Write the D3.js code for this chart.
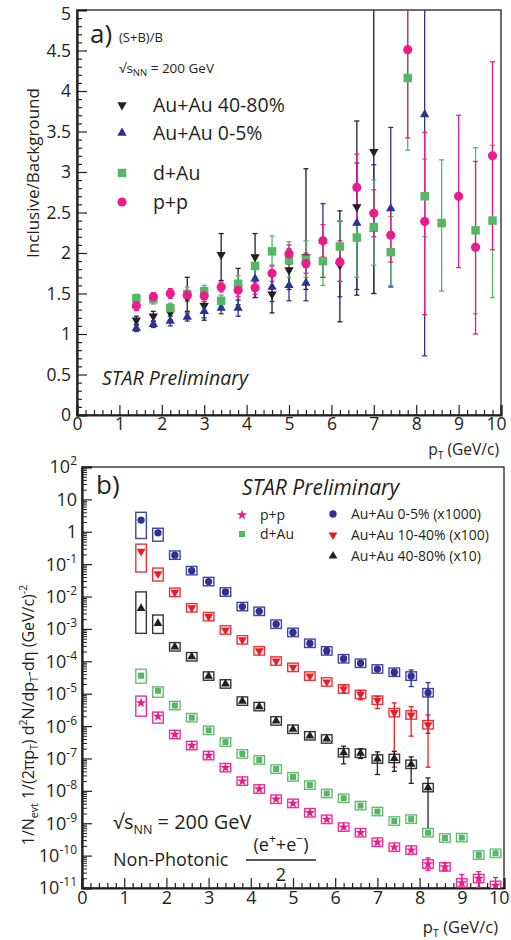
<!DOCTYPE html>
<html><head><meta charset="utf-8">
<script src="https://cdn.jsdelivr.net/npm/d3@7"></script>
<style>
body{margin:0;background:#fff}
svg{display:block}
text{font-family:"Open Sans",Lato,sans-serif;fill:#231f20}
</style>
</head><body>
<svg id="c" width="511" height="940"></svg>
<script>
// ---------------- Panel a data: (S+B)/B ----------------
const aPeriphX  = [1.4,1.8,2.2,2.6,3.0,3.4,3.8,4.2,4.6,5.0,5.4,6.2,6.6,7.0];
const aPeriphY  = [1.17,1.22,1.26,1.45,1.35,1.98,1.57,1.95,1.49,1.79,1.95,1.85,2.57,3.25];
const aPeriphLo = [1.12,1.16,1.17,1.28,1.17,1.66,1.36,1.45,1.26,1.55,1.55,1.15,1.48,1.50];
const aPeriphHi = [1.22,1.28,1.35,1.70,1.40,2.24,1.81,2.24,1.74,2.05,3.04,2.52,3.63,5.5];

const aCentX  = [1.4,1.8,2.2,2.6,3.0,3.4,3.8,4.2,4.6,5.0,5.4,5.8,6.2,6.6,7.0,7.4,8.2];
const aCentY  = [1.07,1.12,1.16,1.21,1.28,1.32,1.32,1.68,1.58,1.60,1.63,2.15,1.90,2.37,2.30,2.55,3.71];
const aCentLo = [1.03,1.08,1.10,1.16,1.20,1.25,1.22,1.45,1.40,1.41,1.41,1.70,1.46,1.55,1.50,1.58,0.73];
const aCentHi = [1.11,1.16,1.22,1.26,1.36,1.39,1.42,1.80,1.75,1.78,1.82,2.61,2.39,3.11,3.09,3.55,5.5];

const aDAuX  = [1.4,1.8,2.2,2.6,3.0,3.4,3.8,4.2,4.6,5.0,5.4,5.8,6.2,6.6,7.0,7.4,7.8,8.2,8.6,9.4,9.8];
const aDAuY  = [1.44,1.43,1.32,1.49,1.53,1.41,1.62,1.84,2.02,1.91,1.92,1.90,2.08,2.19,2.32,2.01,4.16,2.70,2.37,2.28,2.40];
const aDAuLo = [1.39,1.37,1.25,1.40,1.45,1.34,1.52,1.70,1.85,1.70,1.70,1.60,1.65,1.70,1.85,1.60,3.27,2.20,1.53,1.25,1.45];
const aDAuHi = [1.49,1.48,1.38,1.58,1.60,1.48,1.72,1.98,2.21,2.14,2.15,2.15,2.40,2.60,2.90,2.45,5.5,3.16,3.15,3.30,3.33];

const aPPX  = [1.4,1.8,2.2,2.6,3.0,3.4,3.8,4.2,4.6,5.0,5.4,5.8,6.2,6.6,7.0,7.4,7.8,8.2,9.0,9.4,9.8];
const aPPY  = [1.35,1.46,1.50,1.48,1.47,1.58,1.54,1.57,1.75,1.99,1.87,2.15,1.89,2.81,2.49,2.22,4.51,2.39,2.70,2.07,3.20];
const aPPLo = [1.29,1.41,1.44,1.42,1.40,1.52,1.46,1.49,1.65,1.86,1.75,1.95,1.65,2.35,2.20,1.89,3.42,1.24,1.82,1.00,2.04];
const aPPHi = [1.41,1.51,1.56,1.54,1.54,1.64,1.62,1.64,1.84,2.10,2.00,2.35,2.15,3.22,2.78,2.55,5.5,3.49,3.70,3.13,4.36];

const aLegend = ["Au+Au 40-80%","Au+Au 0-5%","d+Au","p+p"];
const aYTicks = [0,0.5,1,1.5,2,2.5,3,3.5,4,4.5,5];
const xTicks  = [0,1,2,3,4,5,6,7,8,9,10];

// ---------------- Panel b data: spectra ----------------
const bAAX = [1.4,1.8,2.2,2.6,3.0,3.4,3.8,4.2,4.6,5.0,5.4,5.8,6.2,6.6,7.0,7.4,7.8,8.2];
const bCentY = [2.3,0.93,0.19,0.063,0.029,0.0138,0.0049,0.0035,0.0014,7.8e-4,3.6e-4,2.1e-4,1.2e-4,8.7e-5,5.8e-5,4.6e-5,3.5e-5,1.07e-5];
const bMidY  = [0.25,0.050,0.0135,0.0045,0.0024,9.3e-4,4.6e-4,2.1e-4,1.02e-4,6.5e-5,3.5e-5,2.3e-5,1.4e-5,9.5e-6,6.3e-6,2.6e-6,2.2e-6,1.1e-6];
const bPerY  = [4.3e-3,1.48e-3,2.8e-4,1.38e-4,3.5e-5,2.0e-5,5.9e-6,4.0e-6,1.44e-6,8.0e-7,5.0e-7,4.0e-7,1.5e-7,1.45e-7,9.6e-8,1.0e-7,6.6e-8,1.26e-8];
const bRefX = [1.4,1.8,2.2,2.6,3.0,3.4,3.8,4.2,4.6,5.0,5.4,5.8,6.2,6.6,7.0,7.4,7.8,8.2,8.6,9.0,9.4,9.8];
const bDAuY = [3.6e-5,1.23e-5,4.3e-6,1.82e-6,7.4e-7,3.2e-7,1.38e-7,9.0e-8,4.7e-8,2.7e-8,1.5e-8,8.3e-9,5.9e-9,3.5e-9,2.3e-9,1.17e-9,1.34e-9,5.1e-10,3.5e-10,3.6e-10,1.04e-10,1.18e-10];
const bPPY  = [5.2e-6,2.0e-6,5.5e-7,2.5e-7,1.23e-7,5.2e-8,2.0e-8,1.14e-8,5.5e-9,4.1e-9,2.1e-9,1.32e-9,7.6e-10,5.1e-10,2.6e-10,1.82e-10,1.48e-10,5.5e-11,4.5e-11,1.44e-11,1.96e-11,1.2e-11];

// statistical error bars [index, low, high]
const bCentErr = [[10,3.0e-4,4.2e-4],[11,1.7e-4,2.6e-4],[15,3.7e-5,5.6e-5],[16,1.66e-5,5.4e-5],[17,6.0e-7,2.2e-5]];
const bMidErr  = [[12,1.05e-5,1.8e-5],[13,6.5e-6,1.25e-5],[14,3.5e-6,8.3e-6],[15,5.4e-8,5.2e-6],[16,4.9e-7,4.0e-6],[17,5.4e-8,2.2e-6]];
const bPerErr  = [[12,6.8e-8,2.4e-7],[13,1.0e-7,2.0e-7],[14,3.2e-8,1.6e-7],[15,4.0e-8,1.66e-7],[16,1.7e-8,1.12e-7],[17,4.9e-10,2.5e-8]];
const bDAuErr  = [[20,8.5e-11,1.25e-10]];
const bPPErr   = [[17,3.5e-11,8.5e-11],[18,3.4e-11,5.8e-11],[19,7e-12,2.6e-11],[20,1.05e-11,3.2e-11],[21,7e-12,2.1e-11]];

// systematic boxes, decades [up, down] for first points (rest use default)
const bCentSys = [[0.24,0.57],[0.14,0.26]];
const bMidSys  = [[0.22,0.64],[0.18,0.22]];
const bPerSys  = [[0.51,0.77],[0.26,0.31]];
const bDAuSys  = [[0.20,0.23],[0.12,0.20]];
const bPPSys   = [[0.21,0.41],[0.13,0.21]];

const bLegend = ["p+p","d+Au","Au+Au 0-5% (x1000)","Au+Au 10-40% (x100)","Au+Au 40-80% (x10)"];
const bExps = [2,1,0,-1,-2,-3,-4,-5,-6,-7,-8,-9,-10,-11];

// ---------------- styles ----------------
const C = {black:"#231f20", blue:"#2e3192", green:"#55b663", pink:"#ec1a8c", red:"#ed1c24"};
const FONT = "'Open Sans', Lato, sans-serif";
const svg = d3.select("#c");

function sym(type, size){ return d3.symbol().type(type).size(size)(); }

function styleAxis(g){
  g.select(".domain").attr("stroke",C.black).attr("stroke-width",2.2);
  g.selectAll(".tick line").attr("stroke",C.black).attr("stroke-width",1.2);
  g.selectAll("text").style("font-family",FONT).attr("fill",C.black);
}
function lastLabelFlush(g){
  g.selectAll(".tick text").filter(d=>d===10).attr("text-anchor","end").attr("dx","5px");
}

// =============== PANEL A ===============
const xA = d3.scaleLinear().domain([0,10]).range([77,501]);
const yA = d3.scaleLinear().domain([0,5]).range([415,10]);

svg.append("clipPath").attr("id","clipA").append("rect")
  .attr("x",77).attr("y",10).attr("width",424).attr("height",405);

const gA = svg.append("g");
gA.append("rect").attr("x",xA(0)).attr("y",yA(5)).attr("width",xA(10)-xA(0)).attr("height",yA(0)-yA(5))
  .attr("fill","none").attr("stroke",C.black).attr("stroke-width",1.3);

const axA = gA.append("g").attr("transform",`translate(0,${yA(0)})`)
  .call(d3.axisBottom(xA).tickValues(xTicks).tickSize(-10).tickPadding(3).tickFormat(d3.format("d")));
styleAxis(axA); axA.selectAll("text").style("font-size","17.5px"); lastLabelFlush(axA);
const minorX = d3.range(0,10.01,0.2).filter(v=>Math.abs(v-Math.round(v))>1e-6);
gA.append("g").attr("transform",`translate(0,${yA(0)})`)
  .call(d3.axisBottom(xA).tickValues(minorX).tickSize(-5).tickFormat(""))
  .call(g=>{g.select(".domain").remove();g.selectAll("line").attr("stroke",C.black).attr("stroke-width",1.2);});
const ayA = gA.append("g").attr("transform",`translate(${xA(0)},0)`)
  .call(d3.axisLeft(yA).tickValues(aYTicks).tickSize(-10).tickPadding(6).tickFormat(d=>String(d)));
styleAxis(ayA); ayA.selectAll("text").style("font-size","17.5px");
ayA.selectAll(".tick text").filter(d=>d===5).attr("dy","0.55em");
const minorYA = d3.range(0,5.001,0.1).filter(v=>Math.abs(v*2-Math.round(v*2))>1e-6);
gA.append("g").attr("transform",`translate(${xA(0)},0)`)
  .call(d3.axisLeft(yA).tickValues(minorYA).tickSize(-5).tickFormat(""))
  .call(g=>{g.select(".domain").remove();g.selectAll("line").attr("stroke",C.black).attr("stroke-width",1.2);});

const seriesA = [
  {x:aPeriphX,y:aPeriphY,lo:aPeriphLo,hi:aPeriphHi,color:C.black,type:d3.symbolTriangle,size:38,rot:180},
  {x:aCentX,y:aCentY,lo:aCentLo,hi:aCentHi,color:C.blue,type:d3.symbolTriangle,size:38,rot:0},
  {x:aDAuX,y:aDAuY,lo:aDAuLo,hi:aDAuHi,color:C.green,type:d3.symbolSquare,size:72,rot:0},
  {x:aPPX,y:aPPY,lo:aPPLo,hi:aPPHi,color:C.pink,type:d3.symbolCircle,size:66,rot:0}
];
const plotA = gA.append("g").attr("clip-path","url(#clipA)");
seriesA.forEach(s=>{
  const g = plotA.append("g");
  s.x.forEach((xv,i)=>{
    const px = xA(xv);
    g.append("line").attr("x1",px).attr("x2",px).attr("y1",yA(s.lo[i])).attr("y2",yA(s.hi[i]))
      .attr("stroke",s.color).attr("stroke-width",1.3);
    [s.lo[i],s.hi[i]].forEach(v=>g.append("line").attr("x1",px-2.5).attr("x2",px+2.5)
      .attr("y1",yA(v)).attr("y2",yA(v)).attr("stroke",s.color).attr("stroke-width",1.3));
  });
});
seriesA.forEach(s=>{
  const g = plotA.append("g");
  s.x.forEach((xv,i)=>{
    g.append("path").attr("d",sym(s.type,s.size))
      .attr("transform",`translate(${xA(xv)},${yA(s.y[i])}) rotate(${s.rot})`)
      .attr("fill",s.color);
  });
});

gA.append("text").attr("x",90).attr("y",43).style("font-size","26px").text("a)");
gA.append("text").attr("x",119).attr("y",42).style("font-size","13px").text("(S+B)/B");
const sA = gA.append("text").attr("x",119).attr("y",73).style("font-size","13.5px");
sA.append("tspan").text("√s");
sA.append("tspan").attr("dy",3).style("font-size","9.5px").text("NN");
sA.append("tspan").attr("dy",-3).text(" = 200 GeV");
const legY = [105,133,173,202];
seriesA.forEach((s,i)=>{
  gA.append("path").attr("d",sym(s.type,s.size))
    .attr("transform",`translate(122,${legY[i]}) rotate(${s.rot})`).attr("fill",s.color);
  gA.append("text").attr("x",153).attr("y",legY[i]).attr("dy","0.36em").style("font-size","19.5px").text(aLegend[i]);
});
gA.append("text").attr("x",102).attr("y",385).style("font-size","19.5px").style("font-style","italic").attr("fill","#333").text("STAR Preliminary");
gA.append("text").attr("transform","translate(39,173) rotate(-90)").attr("text-anchor","middle")
  .style("font-size","17px").text("Inclusive/Background");
const xtA = gA.append("text").attr("x",499).attr("y",455).attr("text-anchor","end").style("font-size","15.5px");
xtA.append("tspan").text("p");
xtA.append("tspan").attr("dy",4).style("font-size","10.5px").text("T");
xtA.append("tspan").attr("dy",-4).text(" (GeV/c)");

// =============== PANEL B ===============
const xB = d3.scaleLinear().domain([0,10]).range([82,504]);
const yB = d3.scaleLog().domain([1e-11,1e2]).range([888,467]);
svg.append("clipPath").attr("id","clipB").append("rect")
  .attr("x",82).attr("y",467).attr("width",422).attr("height",421);
const gB = svg.append("g");
gB.append("rect").attr("x",xB(0)).attr("y",yB(1e2)).attr("width",xB(10)-xB(0)).attr("height",yB(1e-11)-yB(1e2))
  .attr("fill","none").attr("stroke",C.black).attr("stroke-width",1.3);
const axB = gB.append("g").attr("transform",`translate(0,${yB(1e-11)})`)
  .call(d3.axisBottom(xB).tickValues(xTicks).tickSize(-10).tickPadding(3).tickFormat(d3.format("d")));
styleAxis(axB); axB.selectAll("text").style("font-size","18px"); lastLabelFlush(axB);
gB.append("g").attr("transform",`translate(0,${yB(1e-11)})`)
  .call(d3.axisBottom(xB).tickValues(minorX).tickSize(-5).tickFormat(""))
  .call(g=>{g.select(".domain").remove();g.selectAll("line").attr("stroke",C.black).attr("stroke-width",1.2);});
const majB = bExps.map(e=>Math.pow(10,e));
const ayB = gB.append("g").attr("transform",`translate(${xB(0)},0)`)
  .call(d3.axisLeft(yB).tickValues(majB).tickSize(-10).tickPadding(6).tickFormat(""));
styleAxis(ayB);
const minorB = [];
bExps.slice(1).forEach(e=>{ for(let m=2;m<=9;m++) minorB.push(m*Math.pow(10,e)); });
gB.append("g").attr("transform",`translate(${xB(0)},0)`)
  .call(d3.axisLeft(yB).tickValues(minorB).tickSize(-5).tickFormat(""))
  .call(g=>{g.select(".domain").remove();g.selectAll("line").attr("stroke",C.black).attr("stroke-width",1);});
bExps.forEach(e=>{
  const t = gB.append("text").attr("x",77).attr("y",yB(Math.pow(10,e))).attr("dy","0.36em")
    .attr("text-anchor","end").style("font-size","18px");
  if(e===0){ t.text("1"); }
  else if(e===1){ t.text("10"); }
  else { t.append("tspan").text("10"); t.append("tspan").attr("dy",-8).style("font-size","12px").text(String(e)); }
});

const seriesB = [
  {x:bAAX,y:bCentY,err:bCentErr,sys:bCentSys,color:C.blue,type:d3.symbolCircle,size:42,rot:0},
  {x:bAAX,y:bMidY,err:bMidErr,sys:bMidSys,color:C.red,type:d3.symbolTriangle,size:34,rot:180},
  {x:bAAX,y:bPerY,err:bPerErr,sys:bPerSys,color:C.black,type:d3.symbolTriangle,size:34,rot:0},
  {x:bRefX,y:bDAuY,err:bDAuErr,sys:bDAuSys,color:C.green,type:d3.symbolSquare,size:36,rot:0},
  {x:bRefX,y:bPPY,err:bPPErr,sys:bPPSys,color:C.pink,type:d3.symbolStar,size:34,rot:0}
];
const plotB = gB.append("g").attr("clip-path","url(#clipB)");
const defSys = 0.13, halfW = 0.125;
seriesB.forEach(s=>{
  const g = plotB.append("g");
  s.x.forEach((xv,i)=>{
    const sy = s.sys[i] || [defSys,defSys];
    const v = s.y[i];
    const top = yB(v*Math.pow(10,sy[0])), bot = yB(v/Math.pow(10,sy[1]));
    g.append("rect").attr("x",xB(xv-halfW)).attr("y",top).attr("width",xB(xv+halfW)-xB(xv-halfW)).attr("height",bot-top)
      .attr("fill","#fff").attr("stroke",s.color).attr("stroke-width",1.4).attr("stroke-opacity",0.9);
  });
  s.err.forEach(([i,lo,hi])=>{
    const px = xB(s.x[i]);
    g.append("line").attr("x1",px).attr("x2",px).attr("y1",yB(lo)).attr("y2",yB(hi)).attr("stroke",s.color).attr("stroke-width",1.3);
    [lo,hi].forEach(v=>g.append("line").attr("x1",px-2.5).attr("x2",px+2.5).attr("y1",yB(v)).attr("y2",yB(v))
      .attr("stroke",s.color).attr("stroke-width",1.3));
  });
});
seriesB.forEach(s=>{
  const g = plotB.append("g");
  s.x.forEach((xv,i)=>{
    g.append("path").attr("d",sym(s.type,s.size))
      .attr("transform",`translate(${xB(xv)},${yB(s.y[i])}) rotate(${s.rot})`).attr("fill",s.color);
  });
});

gB.append("text").attr("x",96).attr("y",494).style("font-size","26px").text("b)");
gB.append("text").attr("x",242).attr("y",495).style("font-size","21px").style("font-style","italic").attr("fill","#333").text("STAR Preliminary");
const legB = [
  {s:seriesB[4],x:242,y:515},{s:seriesB[3],x:242,y:534},
  {s:seriesB[0],x:333,y:514},{s:seriesB[1],x:333,y:535},{s:seriesB[2],x:333,y:556}
];
legB.forEach((l,i)=>{
  gB.append("path").attr("d",sym(l.s.type,l.s.size)).attr("transform",`translate(${l.x},${l.y}) rotate(${l.s.rot})`).attr("fill",l.s.color);
  gB.append("text").attr("x",l.x+18).attr("y",l.y).attr("dy","0.36em").style("font-size","14px").text(bLegend[i]);
});
const sB = gB.append("text").attr("x",113).attr("y",829).style("font-size","20px");
sB.append("tspan").text("√s");
sB.append("tspan").attr("dy",5).style("font-size","12.5px").text("NN");
sB.append("tspan").attr("dy",-5).text(" = 200 GeV");
gB.append("text").attr("x",113).attr("y",866).style("font-size","18px").text("Non-Photonic");
const num = gB.append("text").attr("x",281).attr("y",851).attr("text-anchor","middle").style("font-size","18px");
num.append("tspan").text("(e");
num.append("tspan").attr("dy",-8).style("font-size","12px").text("+");
num.append("tspan").attr("dy",8).text("+e");
num.append("tspan").attr("dy",-8).style("font-size","12px").text("−");
num.append("tspan").attr("dy",8).text(")");
gB.append("line").attr("x1",246).attr("x2",316).attr("y1",860).attr("y2",860).attr("stroke",C.black).attr("stroke-width",1.3);
gB.append("text").attr("x",281).attr("y",881).attr("text-anchor","middle").style("font-size","18px").text("2");
const xtB = gB.append("text").attr("x",498).attr("y",933).attr("text-anchor","end").style("font-size","16.5px");
xtB.append("tspan").text("p");
xtB.append("tspan").attr("dy",4).style("font-size","11px").text("T");
xtB.append("tspan").attr("dy",-4).text(" (GeV/c)");
const ytB = gB.append("text").attr("transform","translate(34,715) rotate(-90)").attr("text-anchor","middle").style("font-size","16px");
ytB.append("tspan").text("1/N");
ytB.append("tspan").attr("dy",4).style("font-size","10.5px").text("evt");
ytB.append("tspan").attr("dy",-4).text(" 1/(2πp");
ytB.append("tspan").attr("dy",4).style("font-size","10.5px").text("T");
ytB.append("tspan").attr("dy",-4).text(") d");
ytB.append("tspan").attr("dy",-7).style("font-size","10.5px").text("2");
ytB.append("tspan").attr("dy",7).text("N/dp");
ytB.append("tspan").attr("dy",4).style("font-size","10.5px").text("T");
ytB.append("tspan").attr("dy",-4).text("-dη (GeV/c)");
ytB.append("tspan").attr("dy",-7).style("font-size","10.5px").text("-2");
</script>
</body></html>
